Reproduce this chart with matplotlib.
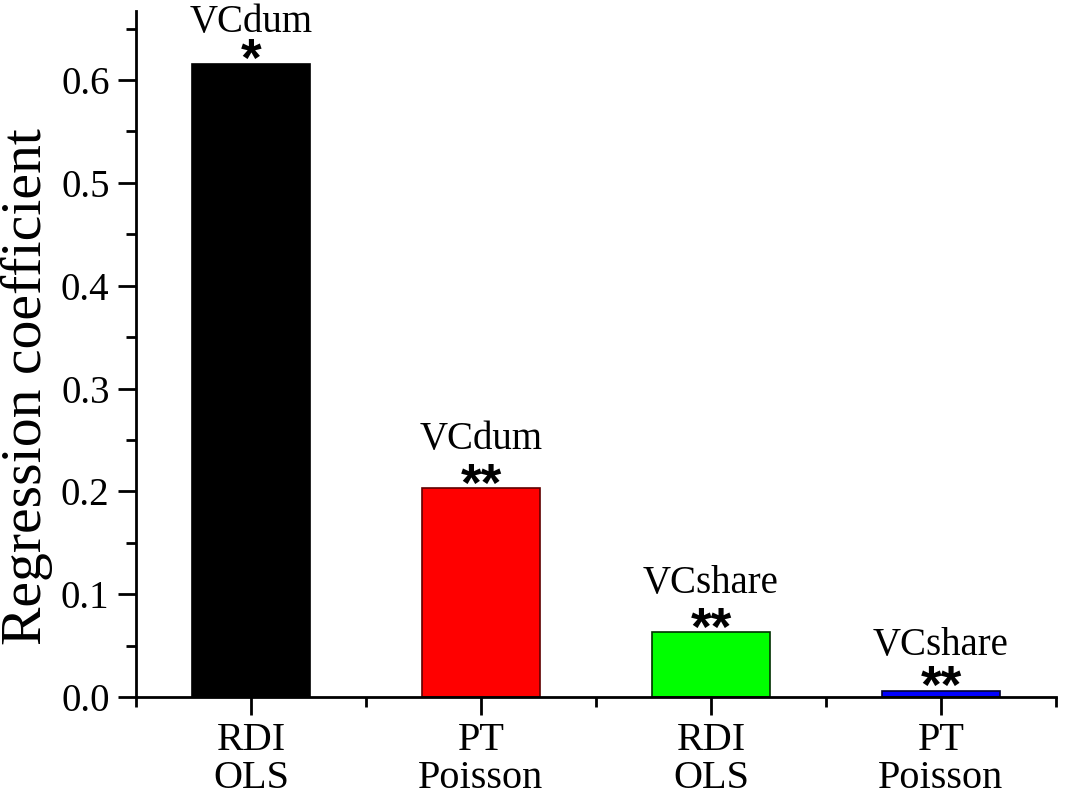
import matplotlib
matplotlib.use("Agg")
import matplotlib.pyplot as plt
from matplotlib.ticker import MultipleLocator, FixedLocator

# Data
categories = ["RDI\nOLS", "PT\nPoisson", "RDI\nOLS", "PT\nPoisson"]
coefficients = [0.616, 0.203, 0.063, 0.006]
variables = ["VCdum", "VCdum", "VCshare", "VCshare"]
stars = ["*", "**", "**", "**"]
colors = ["#000000", "#FF0000", "#00FF00", "#0000FF"]
edge_colors = ["#000000", "#600000", "#003000", "#000030"]

plt.rcParams["font.family"] = ["Liberation Serif", "DejaVu Serif"]

fig = plt.figure(figsize=(10.65, 7.98), dpi=100)
ax = fig.add_axes([0.1277, 0.1266, 0.8638, 0.8594])

x = list(range(1, len(categories) + 1))
bars = ax.bar(x, coefficients, width=0.51, color=colors,
              edgecolor=edge_colors, linewidth=1.2, zorder=2)

# significance stars and variable names above each bar
name_offsets = [23, 28, 28, 26]  # points above bar top (first one squeezed by the frame)
for xi, val, var, st, off in zip(x, coefficients, variables, stars, name_offsets):
    ax.annotate(st, (xi, val), xytext=(0, -9), textcoords="offset points",
                ha="center", va="baseline", fontsize=38, fontweight="bold",
                family=["Liberation Sans", "DejaVu Sans"])
    ax.annotate(var, (xi, val), xytext=(0, off), textcoords="offset points",
                ha="center", va="baseline", fontsize=28)

ax.set_xlim(0.5, 4.5)
ax.set_ylim(0, 0.667)
ax.set_xticks(x)
ax.set_xticklabels(categories, fontsize=29, linespacing=1.03)
ax.xaxis.set_minor_locator(FixedLocator([0.5, 1.5, 2.5, 3.5, 4.5]))
ax.yaxis.set_major_locator(MultipleLocator(0.1))
ax.yaxis.set_minor_locator(MultipleLocator(0.05))
ax.yaxis.set_major_formatter(plt.FormatStrFormatter("%.1f"))
ax.tick_params(axis="y", labelsize=28, pad=6)
ax.tick_params(which="major", direction="out", length=13, width=2)
ax.tick_params(which="minor", direction="out", length=7, width=2)
ax.tick_params(axis="x", pad=5)

for side in ["top", "right"]:
    ax.spines[side].set_visible(False)
for side in ["left", "bottom"]:
    ax.spines[side].set_linewidth(2)

ax.set_ylabel("Regression coefficient", fontsize=41.5)
ax.yaxis.set_label_coords(-0.09, 0.452)

fig.savefig("out.png", dpi=100)
